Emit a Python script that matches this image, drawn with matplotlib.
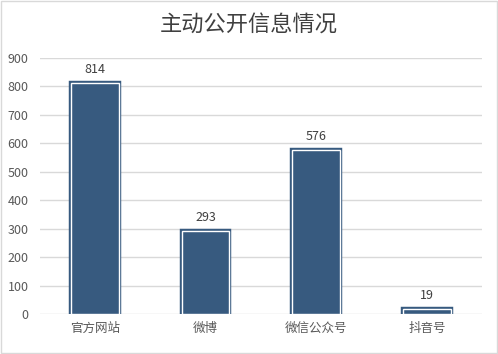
import matplotlib.pyplot as plt
import numpy as np

plt.rcParams['font.family'] = ['Noto Sans CJK SC', 'DejaVu Sans']

# chart data
categories = ['官方网站', '微博', '微信公众号', '抖音号']
counts = [814, 293, 576, 19]
title = '主动公开信息情况'

bar_color = '#375a7f'
text_color = '#595959'

fig = plt.figure(figsize=(4.98, 3.54), dpi=100)
ax = fig.add_axes([0.080, 0.113, 0.888, 0.723])

x = np.arange(len(categories))
# outer dark outline, then thin white line inside it
ax.bar(x, counts, width=0.43, color=bar_color, edgecolor=bar_color,
       linewidth=3.2, zorder=3)
ax.bar(x, counts, width=0.43, color=bar_color, edgecolor='white',
       linewidth=1.0, zorder=4)

for xi, v in zip(x, counts):
    ax.text(xi, v + 24, str(v), ha='center', va='bottom', fontsize=9,
            color='#404040', zorder=5)

ax.set_xlim(-0.5, len(categories) - 0.5)
ax.set_ylim(0, 900)
ax.set_yticks(np.arange(0, 901, 100))
ax.set_xticks(x)
ax.set_xticklabels(categories)
ax.tick_params(axis='both', length=0, labelsize=9, labelcolor=text_color)
ax.tick_params(axis='x', pad=6)
ax.tick_params(axis='y', pad=8)
ax.grid(axis='y', color='#d9d9d9', linewidth=1, zorder=0)
for s in ax.spines.values():
    s.set_visible(False)

fig.text(0.5, 0.928, title, ha='center', va='center', fontsize=16,
         color='#404040')

# light grey frame round the whole figure
fig.patches.append(plt.Rectangle((0.002, 0.003), 0.996, 0.994,
                                 transform=fig.transFigure, fill=False,
                                 edgecolor='#d9d9d9', linewidth=1))

fig.savefig('out.png', dpi=100)
